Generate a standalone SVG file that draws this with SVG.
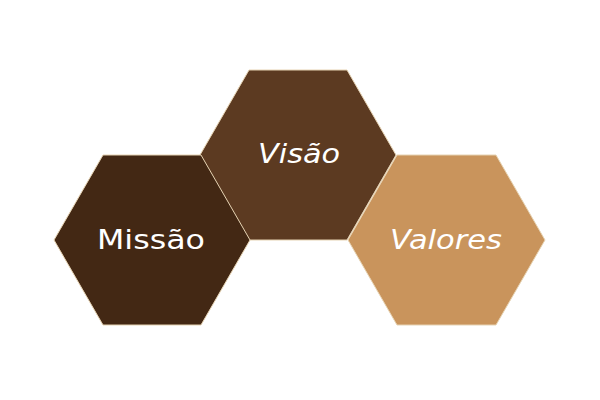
<svg xmlns="http://www.w3.org/2000/svg" width="600" height="400" viewBox="0 0 600 400">
<style>
.hex{stroke:#e6d3b3;stroke-width:1;stroke-linejoin:round}
.lbl{font-family:"DejaVu Sans","Liberation Sans",sans-serif;font-size:26px;fill:#ffffff;text-anchor:middle}
.it{font-style:italic}
</style>
<rect width="600" height="400" fill="#ffffff"/>
<g id="visao">
<polygon class="hex" fill="#5c3a21" points="200,155 249,70 347,70 396,155 347,240 249,240"/>
<text class="lbl it" x="299" y="163" textLength="82" lengthAdjust="spacingAndGlyphs">Visão</text>
</g>
<g id="missao">
<polygon class="hex" fill="#432814" points="54,240 103,155 201,155 250,240 201,325 103,325"/>
<text class="lbl" x="151" y="249" textLength="108" lengthAdjust="spacingAndGlyphs">Missão</text>
</g>
<g id="valores">
<polygon class="hex" fill="#c9945c" points="348,240 397,155 496,155 545,240 496,325 397,325"/>
<text class="lbl it" x="446" y="249" textLength="112" lengthAdjust="spacingAndGlyphs">Valores</text>
</g>
<g id="connectors"></g>
</svg>
